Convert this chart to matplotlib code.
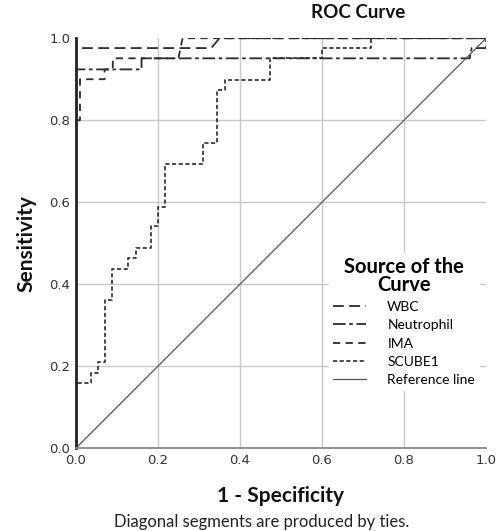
import matplotlib
matplotlib.use("Agg")
import matplotlib.pyplot as plt

# ROC curve vertices (1 - specificity, sensitivity)
wbc_fpr = [0, 0, 0.33, 0.35, 1.0]
wbc_tpr = [0, 0.976, 0.976, 1.0, 1.0]

neut_fpr = [0, 0, 0.16, 0.16, 0.96, 0.965, 1.0, 1.0]
neut_tpr = [0, 0.924, 0.924, 0.951, 0.951, 0.976, 0.976, 1.0]

ima_fpr = [0, 0, 0.01, 0.01, 0.07, 0.07, 0.09, 0.09, 0.25, 0.26, 1.0]
ima_tpr = [0, 0.80, 0.80, 0.90, 0.90, 0.924, 0.924, 0.951, 0.951, 1.0, 1.0]

scube_fpr = [0, 0, 0.036, 0.036, 0.053, 0.053, 0.072, 0.072, 0.089, 0.089,
             0.128, 0.128, 0.146, 0.146, 0.182, 0.182, 0.199, 0.199, 0.217, 0.217,
             0.309, 0.309, 0.343, 0.343, 0.363, 0.363, 0.473, 0.473, 0.6, 0.6,
             0.72, 0.72, 1.0]
scube_tpr = [0, 0.158, 0.158, 0.184, 0.184, 0.209, 0.209, 0.361, 0.361, 0.438,
             0.438, 0.463, 0.463, 0.489, 0.489, 0.541, 0.541, 0.589, 0.589, 0.694,
             0.694, 0.745, 0.745, 0.873, 0.873, 0.898, 0.898, 0.951, 0.951, 0.976,
             0.976, 1.0, 1.0]

ref_x = [0, 1]
ref_y = [0, 1]

ticks = [0.0, 0.2, 0.4, 0.6, 0.8, 1.0]
tick_labels = ["0.0", "0.2", "0.4", "0.6", "0.8", "1.0"]

text_font = "Lato"
ink = "#2b2b2b"

fig = plt.figure(figsize=(4.96, 5.31), dpi=100)
ax = fig.add_axes([0.153, 0.156, 0.827, 0.772])

# grid only at the inner ticks
for v in [0.2, 0.4, 0.6, 0.8]:
    ax.axvline(v, color="#c8c8c8", lw=1.0, zorder=0)
    ax.axhline(v, color="#c8c8c8", lw=1.0, zorder=0)

ax.plot(wbc_fpr, wbc_tpr, color=ink, lw=1.3, dashes=(6, 3), label="WBC")
ax.plot(neut_fpr, neut_tpr, color=ink, lw=1.3, dashes=(7, 2, 2, 2), label="Neutrophil")
ax.plot(ima_fpr, ima_tpr, color=ink, lw=1.3, dashes=(4, 3), label="IMA")
ax.plot(scube_fpr, scube_tpr, color=ink, lw=1.2, dashes=(2.5, 1.5), label="SCUBE1")
ax.plot(ref_x, ref_y, color="#555555", lw=0.9, label="Reference line")

ax.set_xlim(0, 1.0)
ax.set_ylim(0, 1.0)
ax.set_xticks(ticks)
ax.set_xticklabels(tick_labels)
ax.set_yticks(ticks)
ax.set_yticklabels(tick_labels)
ax.tick_params(labelsize=9.5, colors="#333333", length=0, pad=4)

for side in ["top", "right"]:
    ax.spines[side].set_visible(False)
ax.spines["left"].set_color("#222222")
ax.spines["left"].set_linewidth(2.0)
ax.spines["bottom"].set_color("#888888")
ax.spines["bottom"].set_linewidth(1.3)

ax.set_xlabel("1 - Specificity", fontsize=15, fontweight="bold",
              family=text_font, color="#111111", labelpad=14)
ax.set_ylabel("Sensitivity", fontsize=15, fontweight="bold",
              family=text_font, color="#111111", labelpad=9)

leg = ax.legend(loc="upper left", bbox_to_anchor=(0.6, 0.093, 0.4, 0.40),
                mode="expand", title="Source of the\nCurve",
                prop={"family": text_font, "size": 10},
                handlelength=2.4, handletextpad=1.5, labelspacing=0.45,
                borderpad=0.3, fancybox=False, framealpha=1.0)
leg.get_frame().set_edgecolor("white")
leg.get_title().set_fontfamily(text_font)
leg.get_title().set_fontweight("bold")
leg.get_title().set_fontsize(14.5)
leg.get_title().set_multialignment("center")
leg.get_title().set_linespacing(0.85)

fig.text(358 / 496, 1 - 12 / 531, "ROC Curve", ha="center", va="center",
         fontsize=13.5, fontweight="bold", family=text_font, color="#111111")
fig.text(262 / 496, 1 - 522 / 531, "Diagonal segments are produced by ties.",
         ha="center", va="center", fontsize=12, family=text_font, color="#222222")

fig.savefig("out.png", dpi=100)
